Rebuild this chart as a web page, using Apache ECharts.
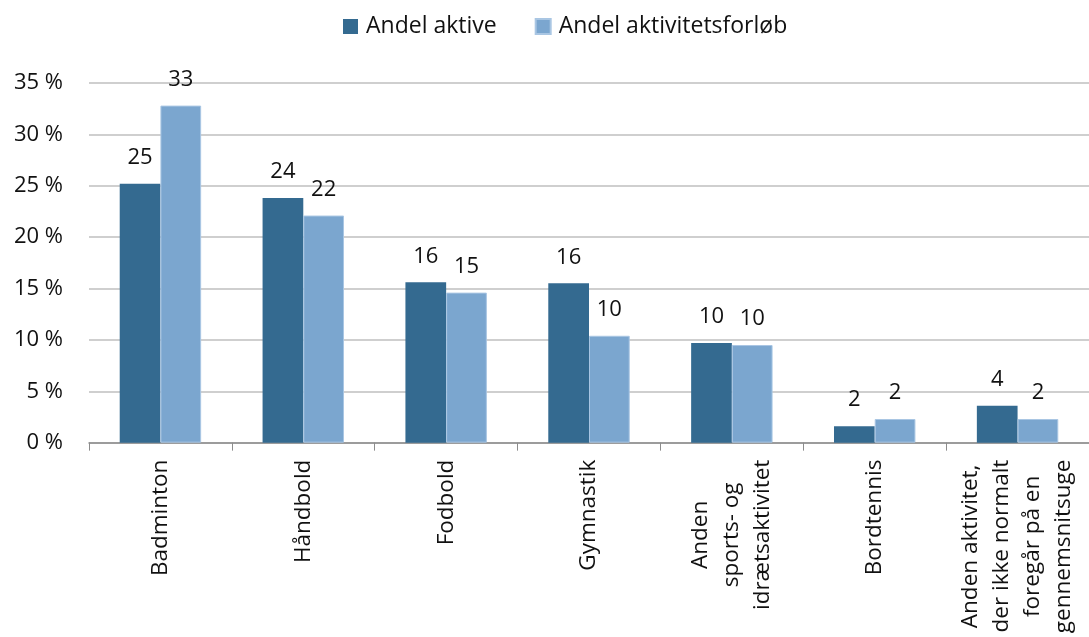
<!DOCTYPE html>
<html>
<head>
<meta charset="utf-8">
<script src="https://cdn.jsdelivr.net/npm/echarts@6/dist/echarts.min.js"></script>
<style>
  html, body { margin: 0; padding: 0; background: #fff; }
  #chart { width: 1089px; height: 637px; }
</style>
</head>
<body>
<div id="chart"></div>
<script>
// Kategorier
const categories = [
  'Badminton',
  'Håndbold',
  'Fodbold',
  'Gymnastik',
  'Anden\nsports- og\nidrætsaktivitet',
  'Bordtennis',
  'Anden aktivitet,\nder ikke normalt\nforegår på en\ngennemsnitsuge'
]

// Andele i procent
const andelAktive = [25.2, 23.8, 15.6, 15.5, 9.7, 1.6, 3.6]
const andelForloeb = [32.8, 22.1, 14.6, 10.4, 9.5, 2.3, 2.3]

const yTicks = { min: 0, max: 35, interval: 5 }

const fontFamily = '"Open Sans", "Noto Sans", sans-serif'
const axisFontSize = 22
const xFontSize = 22.5
const xLineHeight = 31

// Hver linje får luft på begge sider, så alle linjer er lige brede og teksten står centreret
const ctx = document.createElement('canvas').getContext('2d')
ctx.font = xFontSize + 'px ' + fontFamily
const rich = {
  t: { fontSize: xFontSize, fontFamily: fontFamily, color: '#111', lineHeight: xLineHeight }
}
const labelTexts = categories.map((c, i) => {
  const lines = c.split('\n')
  if (lines.length === 1) return '{t|' + c + '}'
  const widths = lines.map((s) => ctx.measureText(s).width)
  const maxW = Math.max(...widths)
  return lines.map((s, j) => {
    const pad = (maxW - widths[j]) / 2
    if (pad < 1) return '{t|' + s + '}'
    const name = 's' + i + '_' + j
    rich[name] = { width: pad, fontSize: xFontSize, lineHeight: xLineHeight }
    return '{' + name + '| }{t|' + s + '}{' + name + '| }'
  }).join('\n')
})

const chart = echarts.init(document.getElementById('chart'))

const labelStyle = {
  show: true,
  position: 'top',
  distance: 15,
  color: '#111',
  fontSize: 22,
  fontFamily: fontFamily,
  formatter: (p) => Math.round(p.value)
}

chart.setOption({
  animation: false,
  legend: {
    top: 10,
    left: 338,
    icon: 'rect',
    itemWidth: 15,
    itemHeight: 15,
    itemGap: 38,
    textStyle: { fontSize: 23, color: '#111', fontFamily: fontFamily, padding: [0, 0, 0, 3] },
    data: ['Andel aktive', 'Andel aktivitetsforløb']
  },
  grid: {
    left: 89,
    right: -10,
    top: 83,
    bottom: 194,
    containLabel: false
  },
  xAxis: {
    type: 'category',
    data: categories,
    axisLine: { lineStyle: { color: '#8c8c8c', width: 1.5 } },
    axisTick: { show: true, length: 8, lineStyle: { color: '#8c8c8c' } },
    axisLabel: {
      rotate: 90,
      interval: 0,
      margin: 17,
      color: '#111',
      fontFamily: fontFamily,
      fontSize: xFontSize,
      lineHeight: xLineHeight,
      formatter: (v, i) => labelTexts[i],
      rich: rich
    }
  },
  yAxis: {
    type: 'value',
    min: yTicks.min,
    max: yTicks.max,
    interval: yTicks.interval,
    axisLine: { show: false },
    axisTick: { show: false },
    splitLine: { lineStyle: { color: '#bfbfbf', width: 1.5 } },
    axisLabel: {
      formatter: '{value} %',
      margin: 26,
      fontSize: axisFontSize,
      color: '#111',
      fontFamily: fontFamily
    }
  },
  series: [
    {
      name: 'Andel aktive',
      type: 'bar',
      data: andelAktive,
      barGap: '0%',
      barCategoryGap: '43%',
      itemStyle: { color: '#346a90' },
      label: labelStyle
    },
    {
      name: 'Andel aktivitetsforløb',
      type: 'bar',
      data: andelForloeb,
      itemStyle: { color: '#7ba6cf', borderColor: '#a9c6e3', borderWidth: 1 },
      label: labelStyle
    }
  ]
})
</script>
</body>
</html>
